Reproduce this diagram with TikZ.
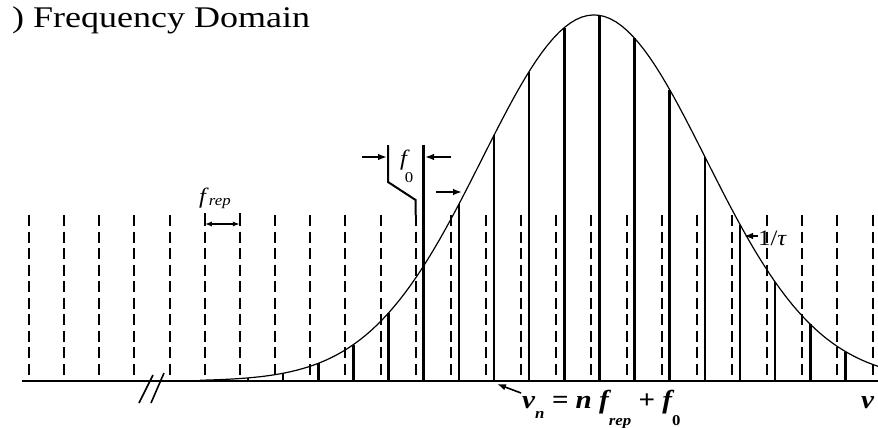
\documentclass[tikz,border=0pt]{standalone}
\usepackage{fontspec}
\setmainfont{Liberation Serif}[FakeStretch=1.12]
\newfontfamily\headfont{Liberation Serif}[FakeStretch=1.2]
\usetikzlibrary{arrows.meta,positioning}

\newcommand{\lowsub}[2]{\raisebox{-#1}{\fontsize{15}{15}\selectfont #2}}

\begin{document}
\begin{tikzpicture}[
    x=1pt, y=-1pt,
    comb/.style={line width=2.6pt},
    ghost/.style={line width=2pt, dash pattern=on 11pt off 5.5pt},
    envelope/.style={line width=1.2pt},
    pointer/.style={-{Latex[length=9pt,width=6.5pt]}, line width=1.6pt},
    spacer/.style={{Latex[length=7pt,width=5pt]}-{Latex[length=7pt,width=5pt]}, line width=1.6pt},
    label/.style={inner sep=0pt, anchor=base west, font=\fontsize{22}{24}\selectfont}
]
\useasboundingbox (0,0) rectangle (878,428);

% axis and break
\coordinate (axstart) at (22,381);
\coordinate (axend) at (878,381);
\draw[line width=2pt] (axstart) -- (axend);
\draw[line width=1.6pt] (139,403) -- (153,375) (151,403) -- (164,373);

% repetition grid
\foreach \k in {0,...,24}
  \draw[ghost] ({29+35.15*\k},215) -- ({29+35.15*\k},381);

% comb teeth under the envelope
\foreach \k in {6,...,23}
  \draw[comb] ({37+35.15*\k},381) -- ({37+35.15*\k},{381-366*exp(-0.5*((37+35.15*\k-594)/112)^2)});

% envelope
\draw[envelope] plot[domain=200:878, samples=120] (\x,{381-366*exp(-0.5*((\x-594)/112)^2)});

% offset marker
\draw[comb] (423.6,381) -- (423.6,145);
\draw[line width=2pt] (388,145) -- (388,182) -- (415.6,200) -- (415.6,215);
\coordinate (offLtail) at (362,157);
\coordinate (offLtip) at (387,157);
\coordinate (offRtail) at (451,157);
\coordinate (offRtip) at (425,157);
\draw[pointer] (offLtail) -- (offLtip);
\draw[pointer] (offRtail) -- (offRtip);
\node[label] (offset) at (400,165) {\textit{f}\kern-5pt\lowsub{17pt}{0}};

% repetition rate marker
\coordinate (repL) at (204.75,224);
\coordinate (repR) at (239.9,224);
\draw[line width=1.6pt] (204.75,213) -- (repL) (239.9,213) -- (repR);
\draw[spacer] (repL) -- (repR);
\node[label] (rate) at (199,203) {\textit{f}\lowsub{2pt}{\textit{rep}}};

% width markers
\coordinate (wLtail) at (436,192);
\coordinate (wLtip) at (462,192);
\draw[pointer] (wLtail) -- (wLtip);
\node[label] (width) at (758,245) {1/\textit{τ}};
\coordinate (wRtip) at (744,236);
\draw[pointer] (width.west |- wRtip) -- (wRtip);

% mode formula
\node[label, font=\fontsize{26}{28}\selectfont\bfseries\itshape] (mode) at (522,408)
  {ν\lowsub{10pt}{n} = n f\lowsub{17pt}{rep} + f\lowsub{17pt}{\upshape 0}};
\coordinate (modetail) at (521,393);
\coordinate (modetip) at (497,384);
\draw[pointer] (modetail) -- (modetip);

% axis label
\node[label, font=\fontsize{26}{28}\selectfont\bfseries\itshape] (nu) at (861,408) {ν};

% heading
\node[label, font=\fontsize{30}{32}\headfont] (heading) at (12,28) {) Frequency Domain};
\end{tikzpicture}
\end{document}
